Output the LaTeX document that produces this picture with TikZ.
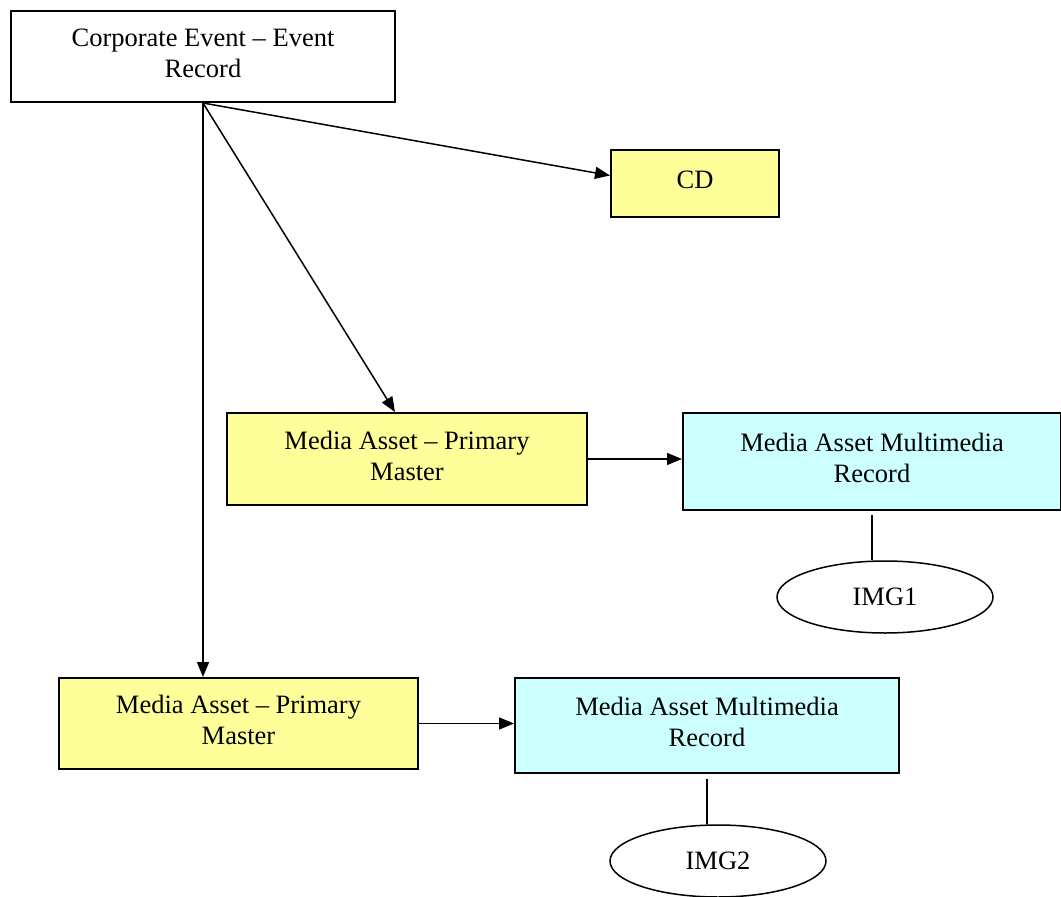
\documentclass[tikz,border=0pt]{standalone}
\usepackage{fontspec}
\setmainfont{Liberation Serif}
\usetikzlibrary{shapes.geometric,arrows.meta}
\definecolor{lightyellow}{HTML}{FFFF99}
\definecolor{lightcyan}{HTML}{CCFFFF}
\tikzset{
  box/.style={draw=black, line width=2pt, rectangle, anchor=north west, align=center, inner sep=0pt,
    font=\fontsize{26.5}{31}\selectfont, execute at end node={\rule[-7pt]{0pt}{0pt}}},
  yelbox/.style={box, fill=lightyellow},
  cyanbox/.style={box, fill=lightcyan},
  imgnode/.style={draw=black, line width=1.5pt, ellipse, fill=white, minimum width=216pt, minimum height=72pt,
    inner sep=0pt, font=\fontsize{26.5}{31}\selectfont},
  arr/.style={line width=1.5pt, -{Triangle[length=15pt,width=12pt]}},
  link/.style={line width=1.5pt}
}
\begin{document}
\begin{tikzpicture}[x=1pt,y=-1pt]
\useasboundingbox (0,0) rectangle (1061,897);
\node[box, minimum width=384pt, minimum height=91pt] (top) at (10,10) {Corporate Event -- Event\\Record};
\node[yelbox, minimum width=168pt, minimum height=67pt] (cd) at (610,149) {CD};
\node[yelbox, minimum width=360pt, minimum height=92pt] (ma1) at (226,412) {Media Asset -- Primary\\Master};
\node[cyanbox, minimum width=378pt, minimum height=97pt] (mmr1) at (682,412) {Media Asset Multimedia\\Record};
\node[imgnode] (img1) at (885,597) {IMG1};
\node[yelbox, minimum width=359pt, minimum height=91pt] (ma2) at (58,677) {Media Asset -- Primary\\Master};
\node[cyanbox, minimum width=384pt, minimum height=95pt] (mmr2) at (514,677) {Media Asset Multimedia\\Record};
\node[imgnode] (img2) at (718,861) {IMG2};
\draw[arr] (top.south) -- ([yshift=8pt]cd.west);
\draw[arr] (top.south) -- ([xshift=-12pt]ma1.north);
\draw[arr] (top.south) -- (top.south |- ma2.north);
\draw[arr] (ma1.east) -- (ma1.east -| mmr1.west);
\draw[arr] (ma2.east) -- (ma2.east -| mmr2.west);
\draw[link] ([yshift=-4pt]mmr1.south) -- (mmr1.south |- img1.north);
\draw[link] ([yshift=-5pt]mmr2.south) -- (mmr2.south |- img2.north);
\end{tikzpicture}
\end{document}
